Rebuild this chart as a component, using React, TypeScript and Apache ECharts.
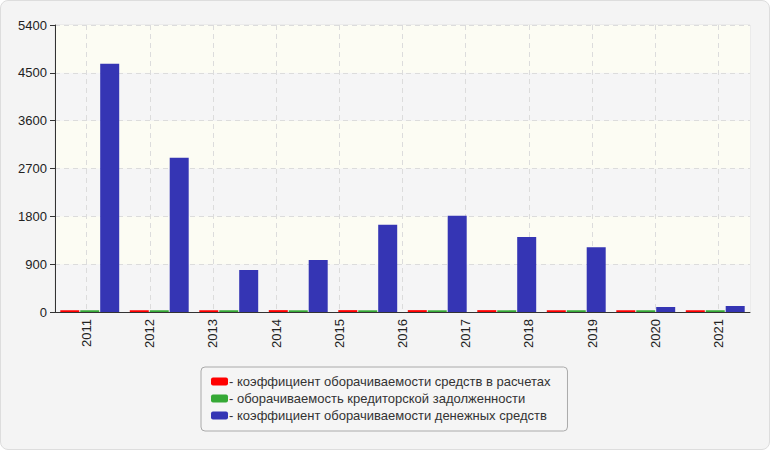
import React, { useEffect, useRef } from "react";
import * as echarts from "echarts";

const categories = ["2011", "2012", "2013", "2014", "2015", "2016", "2017", "2018", "2019", "2020", "2021"];
const barSlots = ["1", "2", "3", "4", "5", "6", "7", "8", "9", "10"];
const receivablesTurnover = [35, 35, 35, 35, 35, 35, 35, 35, 35, 35];
const payablesTurnover = [32, 32, 32, 32, 32, 32, 32, 32, 32, 32];
const cashTurnover = [4670, 2900, 790, 980, 1640, 1810, 1410, 1220, 95, 115];
const seriesNames = [
  "коэффициент оборачиваемости средств в расчетах",
  "оборачиваемость кредиторской задолженности",
  "коэффициент оборачиваемости денежных средств",
];
const yMin = 0;
const yMax = 5400;
const yInterval = 900;

export default function App() {
  const ref = useRef<HTMLDivElement>(null);
  useEffect(() => {
    if (!ref.current) return;
    const chart = echarts.init(ref.current, undefined, { renderer: "svg" });
    const font = "'Liberation Sans', Arial, sans-serif";
    chart.setOption({
      animation: false,
      textStyle: { fontFamily: font },
      grid: {
        left: 54,
        right: 19,
        top: 24,
        bottom: 137,
        show: true,
        borderColor: "#e2e2e2",
        borderWidth: 1,
        backgroundColor: "transparent",
      },
      legend: {
        orient: "vertical",
        left: 200,
        top: 366,
        padding: [8, 17, 9, 10],
        itemGap: 4,
        itemWidth: 17,
        itemHeight: 8,
        icon: "roundRect",
        borderColor: "#aaaaaa",
        borderWidth: 1,
        borderRadius: 4,
        backgroundColor: "#f5f5f5",
        formatter: (n: string) => "- " + n,
        textStyle: { fontSize: 13, color: "#333", fontFamily: font, padding: [0, 0, 0, -4] },
        data: seriesNames,
      },
      xAxis: [
        {
          type: "category",
          data: categories,
          axisLine: { lineStyle: { color: "#333", width: 1 } },
          axisTick: { alignWithLabel: true, length: 5, lineStyle: { color: "#333" } },
          axisLabel: { rotate: 90, fontSize: 13, color: "#222", margin: 7, fontFamily: font },
          splitLine: { show: true, alignWithLabel: true, lineStyle: { color: "#dcdcdc", type: [5, 4] } },
        },
        {
          type: "category",
          data: barSlots,
          position: "bottom",
          show: false,
        },
      ],
      yAxis: {
        type: "value",
        min: yMin,
        max: yMax,
        interval: yInterval,
        axisLine: { show: true, lineStyle: { color: "#333" } },
        axisTick: { show: true, length: 5, lineStyle: { color: "#333" } },
        axisLabel: {
          fontSize: 13,
          color: "#222",
          margin: 8,
          fontFamily: font,
          formatter: (v: number) => String(v),
        },
        splitLine: { show: true, lineStyle: { color: "#dcdcdc", type: [5, 4] } },
        splitArea: { show: true, areaStyle: { color: ["#f5f5f6", "#fcfcf3"] } },
      },
      series: [
        {
          name: seriesNames[0],
          type: "bar",
          xAxisIndex: 1,
          data: receivablesTurnover,
          barWidth: 19,
          barGap: "5%",
          itemStyle: { color: "#ff0000" },
        },
        {
          name: seriesNames[1],
          type: "bar",
          xAxisIndex: 1,
          data: payablesTurnover,
          barWidth: 19,
          barGap: "5%",
          itemStyle: { color: "#36a936" },
        },
        {
          name: seriesNames[2],
          type: "bar",
          xAxisIndex: 1,
          data: cashTurnover,
          barWidth: 19,
          barGap: "5%",
          itemStyle: { color: "#3535b4" },
        },
      ],
    });
    return () => chart.dispose();
  }, []);
  return (
    <div style={{ position: "absolute", left: 0, top: 0, width: 770, height: 450, background: "#ffffff" }}>
      <div
        style={{
          position: "absolute",
          left: 0,
          top: 0,
          width: 768,
          height: 448,
          border: "1px solid #dddddd",
          borderRadius: 8,
          background: "#f4f4f4",
          overflow: "hidden",
        }}
      >
        <div ref={ref} style={{ width: 768, height: 448 }} />
      </div>
    </div>
  );
}
